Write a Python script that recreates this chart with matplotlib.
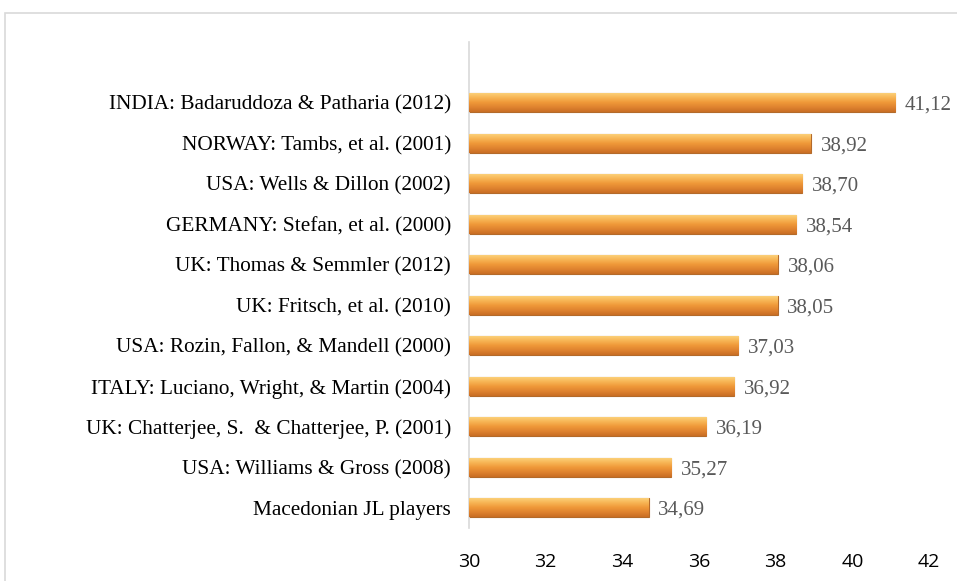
import numpy as np
import matplotlib.pyplot as plt
from matplotlib.colors import LinearSegmentedColormap
from matplotlib.patches import Rectangle

studies = [
    "Macedonian JL players",
    "USA: Williams & Gross (2008)",
    "UK: Chatterjee, S.  & Chatterjee, P. (2001)",
    "ITALY: Luciano, Wright, & Martin (2004)",
    "USA: Rozin, Fallon, & Mandell (2000)",
    "UK: Fritsch, et al. (2010)",
    "UK: Thomas & Semmler (2012)",
    "GERMANY: Stefan, et al. (2000)",
    "USA: Wells & Dillon (2002)",
    "NORWAY: Tambs, et al. (2001)",
    "INDIA: Badaruddoza & Patharia (2012)",
]
values = [34.69, 35.27, 36.19, 36.92, 37.03, 38.05, 38.06, 38.54, 38.70, 38.92, 41.12]
xticks = [30, 32, 34, 36, 38, 40, 42]

fig = plt.figure(figsize=(9.57, 5.81), dpi=100)
# outer chart frame
fig.patches.append(Rectangle((5 / 957, -0.1), 1.2, 1 - 13 / 581 + 0.1,
                             transform=fig.transFigure, fill=False,
                             edgecolor="#D9D9D9", linewidth=1.2))

ax = fig.add_axes([469 / 957, 53 / 581, (929 - 469) / 957, (528 - 42) / 581])

serif = {'family': 'Liberation Serif'}
cmap = LinearSegmentedColormap.from_list("bar", ["#FCD581", "#F8B858", "#F09A3A", "#E08430", "#C96E24"])
grad = np.linspace(0, 1, 64).reshape(-1, 1)

ypos = np.arange(len(values))
h = 0.48
bars = ax.barh(ypos, [v - 30 for v in values], left=30, height=h,
               color="#EE9A3A", edgecolor="#B36A2A", linewidth=0.8, zorder=2)
for b, v in zip(bars, values):
    x0, y0 = b.get_x(), b.get_y()
    im = ax.imshow(grad, cmap=cmap, aspect="auto", zorder=3,
                   extent=(x0, x0 + b.get_width(), y0, y0 + b.get_height()))
    im.set_clip_path(b)
    ax.text(v + 0.25, b.get_y() + h / 2 - 0.06, ("%.2f" % v).replace(".", ","),
            va="center", ha="left", fontsize=15, color="#595959", fontdict=serif, clip_on=False)

ax.set_xlim(30, 42)
ax.set_ylim(-0.5, 11.5)
ax.set_xticks(xticks)
ax.set_xticklabels([str(t) for t in xticks], fontsize=14, family="Open Sans")
ax.set_yticks(ypos)
ax.set_yticklabels(studies, fontsize=15.3, **serif)
ax.tick_params(axis="y", length=0, pad=13)
ax.tick_params(axis="x", length=0, pad=18)
for s in ["top", "right", "bottom"]:
    ax.spines[s].set_visible(False)
ax.spines["left"].set_color("#D9D9D9")
ax.spines["left"].set_linewidth(1.2)

fig.savefig("out.png", dpi=100)
